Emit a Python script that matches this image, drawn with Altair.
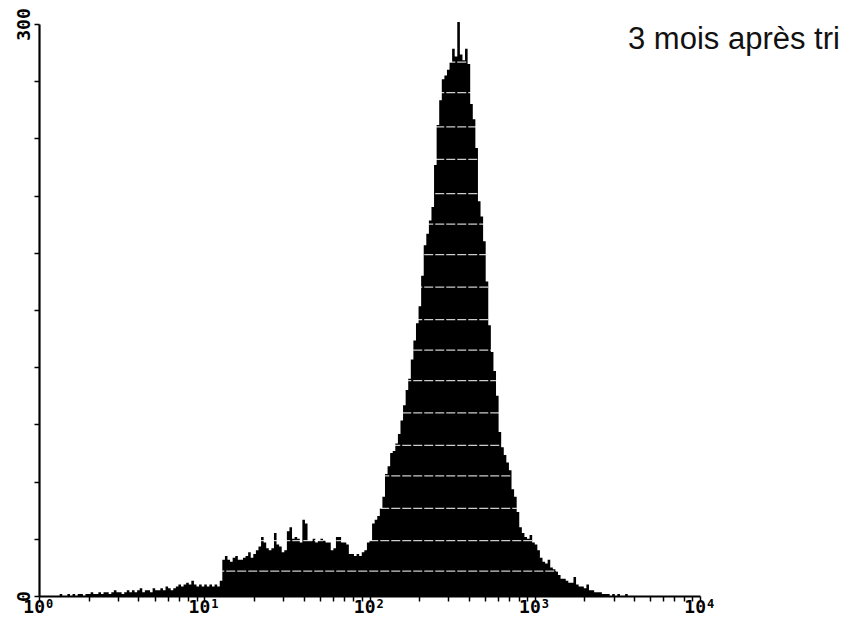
import altair as alt
import pandas as pd

# ---- data (256 log channels, 64 per decade) ----
channels_per_decade = 64
counts = (
    [0, 0, 0, 0, 0, 0, 0, 0]                                   # k0-7
    + [1, 0, 0, 1, 0, 1, 0, 1, 1, 0, 1]                        # k8-18
    + [1, 2, 1, 1, 2, 1, 2, 2, 1, 2]                           # k19-28
    + [3, 2, 2, 1, 2, 3, 2, 3, 2, 3]                           # k29-38
    + [4, 2, 3, 3, 2, 4, 3, 3, 4, 3]                           # k39-48
    + [5, 4, 3, 4, 5, 6, 5, 6, 7, 6]                           # k49-58
    + [8, 6, 5, 6, 5, 6, 5, 6, 5, 6, 5, 8]                     # k59-70
    + [19, 21, 19, 18, 20, 21, 19, 19, 20, 21, 23, 20, 22, 24]  # k71-84
    + [26, 31, 28, 25, 24, 25, 33, 27, 26, 23, 24, 34, 36, 30, 31, 30]  # k85-100
    + [28, 40, 38, 29, 29, 30, 28, 29, 30, 29, 28, 28, 24, 25, 31, 31, 28, 28]  # k101-118
    + [27, 22, 22, 21, 22, 21, 23, 24, 28, 29, 38, 40]         # k119-130
    + [42, 46, 52, 64, 68, 75, 76, 80, 85, 92, 100, 108, 114, 124, 134, 143,
       152, 168, 184, 190, 197, 204, 226, 247, 260, 271, 273, 276, 280, 287,
       283, 301, 284, 281, 287, 279]                            # k131-166
    + [258, 250, 235, 207, 199, 186, 165, 142, 128, 118, 105, 86, 78, 74, 70,
       66, 56, 52, 44, 36, 33, 31, 30, 32, 28, 27, 24, 20, 18, 17, 19, 15, 14,
       13, 11, 9, 9, 8, 7, 7, 10, 6, 5, 5, 4, 6, 3]            # k167-213
    + [3, 2, 2, 2, 1]                                          # k214-218
    + [1, 1, 0, 1, 0, 1, 0, 0, 1, 0, 0, 0, 0, 0]               # k219-232
)
counts = counts + [0] * (256 - len(counts))

# horizontal scan-line artefacts visible inside the black histogram (count levels)
scan_lines = [280, 264, 246, 229, 211, 195, 179, 162, 145, 129, 113, 96, 79, 63, 46, 29, 13]

x_decades = [1, 10, 100, 1000, 10000]
x_label_base = "10"
x_label_exp = ["0", "1", "2", "3", "4"]
y_ticks = [0, 30, 60, 90, 120, 150, 180, 210, 240, 270, 300]
y_label_values = [0, 300]
title_text = "3 mois après tri"

# ---- build tables ----
lo = [10 ** (k / channels_per_decade) for k in range(len(counts))]
hist = pd.DataFrame({"lo": lo + [10 ** (len(counts) / channels_per_decade)],
                     "count": counts + [0]})
lines_df = pd.DataFrame({"level": scan_lines})
xlab_df = pd.DataFrame({"v": x_decades, "base": [x_label_base] * len(x_decades),
                        "exp": x_label_exp})

x_minor = []
for d in x_decades[:-1]:
    x_minor += [d * m for m in range(1, 10)]
x_minor.append(x_decades[-1])

y_label_expr = " || ".join(f"datum.value == {v}" for v in y_label_values)
y_label_expr = f"({y_label_expr}) ? datum.label : ''"

xscale = alt.Scale(type="log", domain=[1, 10000], nice=False)
yscale = alt.Scale(domain=[0, 300], nice=False)

mono = "DejaVu Sans Mono"
W, H = 661, 572

area = alt.Chart(hist).mark_area(interpolate="step-after", color="black").encode(
    x=alt.X("lo:Q", scale=xscale, axis=alt.Axis(
        values=x_minor, labels=False, title=None, grid=False, tickSize=5,
        tickWidth=1.5, tickColor="black", domainColor="black", domainWidth=2.2)),
    y=alt.Y("count:Q", scale=yscale, axis=alt.Axis(
        values=y_ticks, labelExpr=y_label_expr, labelOverlap=False, labelFlush=False,
        title=None, grid=False, tickSize=5, tickWidth=1.5, tickColor="black",
        domainColor="black", domainWidth=2.2, labelFont=mono, labelFontWeight="bold",
        labelFontSize=18, labelColor="black", labelAngle=270, labelPadding=1)),
)

scan = alt.Chart(lines_df).mark_rule(color="white", strokeWidth=1.2, strokeDash=[9, 2],
                                     opacity=0.8).encode(
    y=alt.Y("level:Q", scale=yscale),
    x=alt.datum(10, scale=xscale),
    x2=alt.datum(10000),
)

xlab_base = alt.Chart(xlab_df).mark_text(
    font=mono, fontWeight="bold", fontSize=18, align="right", baseline="alphabetic",
    dx=6, color="black").encode(
    x=alt.X("v:Q", scale=xscale), y=alt.value(H + 17), text="base:N")

xlab_exp = alt.Chart(xlab_df).mark_text(
    font=mono, fontWeight="bold", fontSize=12, align="left", baseline="alphabetic",
    dx=7, color="black").encode(
    x=alt.X("v:Q", scale=xscale), y=alt.value(H + 12), text="exp:N")

title = alt.Chart(pd.DataFrame({"t": [title_text]})).mark_text(
    font="Liberation Sans", fontSize=31, align="left", baseline="alphabetic",
    color="#111111").encode(
    text="t:N", x=alt.value(589), y=alt.value(25))

chart = alt.layer(area, scan, xlab_base, xlab_exp, title).properties(
    width=W, height=H,
    autosize=alt.AutoSizeParams(type="none"),
    padding={"left": 31, "top": 16, "right": 146, "bottom": 21},
    background="white",
).configure_view(stroke=None)

chart.save("out.html", embed_options={"renderer": "svg", "actions": False})
